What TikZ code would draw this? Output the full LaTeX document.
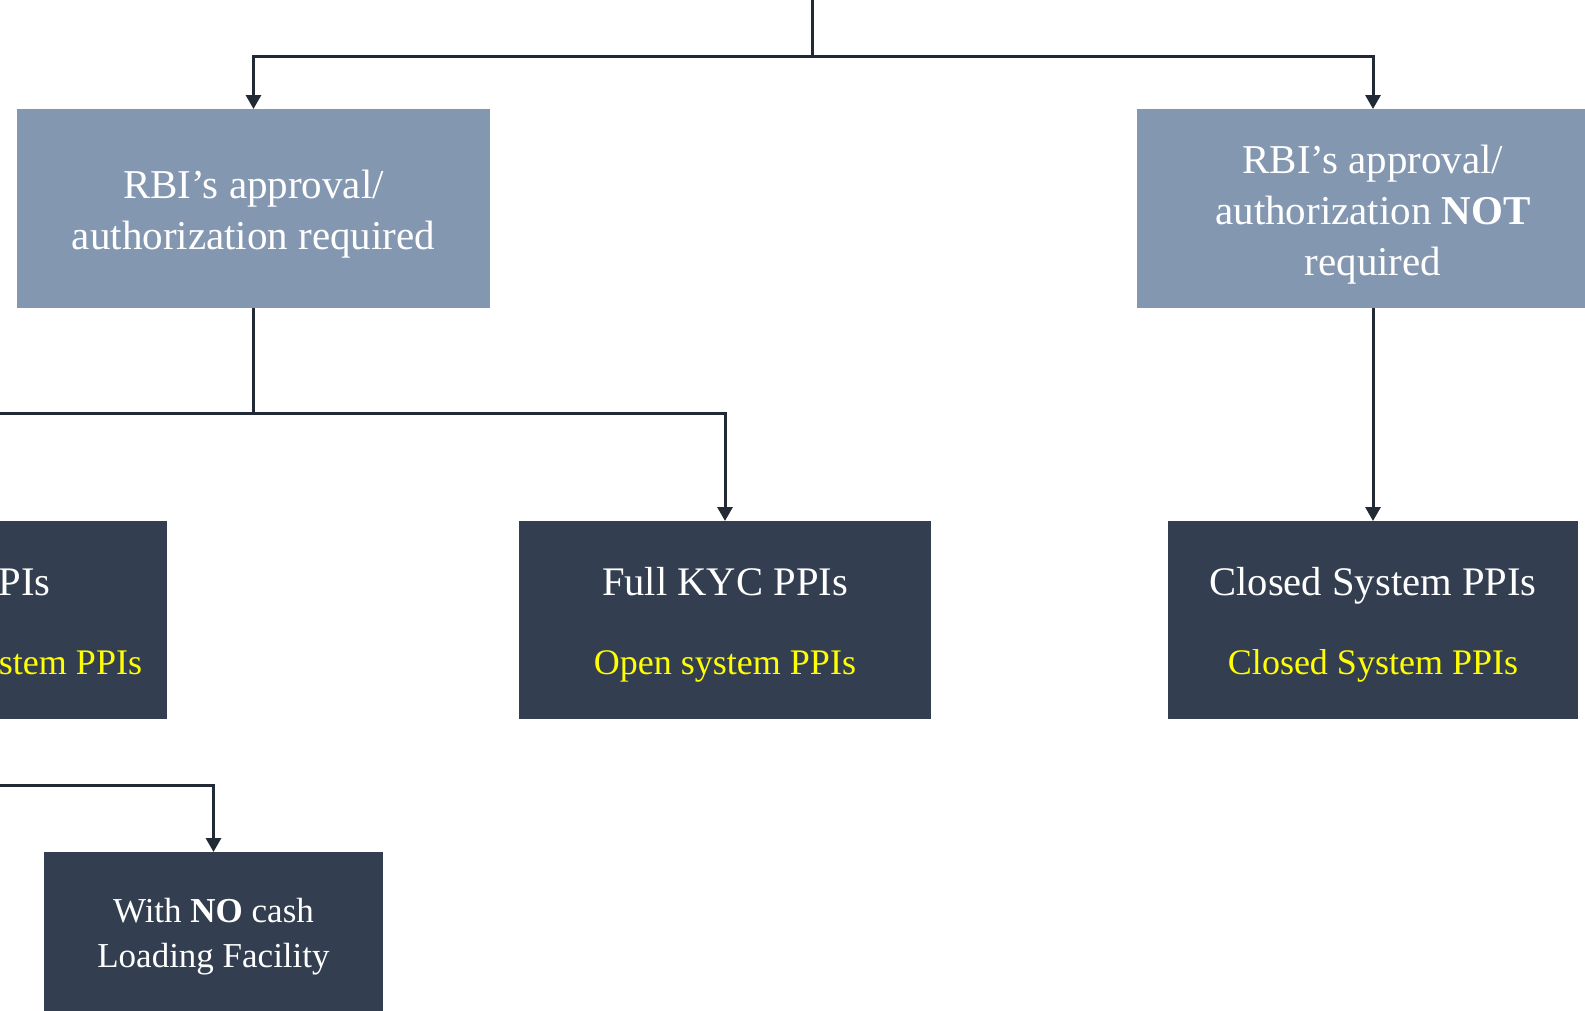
\documentclass[tikz,border=0pt]{standalone}
\usepackage{fontspec}
\setmainfont{Liberation Serif}
\definecolor{slateblue}{HTML}{8497B0}
\definecolor{navybox}{HTML}{333F50}
\definecolor{linedark}{HTML}{222A35}
\definecolor{tagyellow}{HTML}{FFFF00}
\usepackage{tikz}
\usetikzlibrary{arrows.meta, positioning, calc}
\newcommand{\topgap}[1]{\rule{0pt}{#1}}

\begin{document}
\begin{tikzpicture}[
  x=1pt, y=-1pt,
  approvalbox/.style={fill=slateblue, text=white, minimum width=473pt, minimum height=199pt, align=center, inner sep=0pt, outer sep=0pt, font=\fontsize{41}{51}\selectfont},
  ppibox/.style={fill=navybox, text=white, minimum width=412pt, minimum height=198pt, align=center, inner sep=0pt, outer sep=0pt, font=\fontsize{40.6}{51}\selectfont},
  conn/.style={draw=linedark, line width=3pt, -{Triangle[length=14pt, width=15pt]}}
]
  \path[use as bounding box, clip] (0,0) rectangle (1585,1010);

  % approval level
  \coordinate (root) at (812,-10);
  \node[approvalbox] (rbireq) at (253.5,208.5) {\topgap{40pt}RBI’s approval/\\authorization required};
  \node[approvalbox, minimum width=472pt] (rbinot) at (1373,208.5) {\topgap{40pt}RBI’s approval/\\authorization \textbf{NOT}\\required};

  % PPI types
  \node[ppibox] (smallppi) at (-39,620) {\topgap{38pt}Small PPIs\\[28pt]{\fontsize{36}{51}\selectfont\color{tagyellow}Semi-closed system PPIs}};
  \node[ppibox] (fullkyc) at (725,620) {\topgap{38pt}Full KYC PPIs\\[28pt]{\fontsize{36}{51}\selectfont\color{tagyellow}Open system PPIs}};
  \node[ppibox, minimum width=410pt] (closed) at (1373,620) {\topgap{38pt}Closed System PPIs\\[28pt]{\fontsize{36}{51}\selectfont\color{tagyellow}Closed System PPIs}};
  \node[ppibox, minimum width=339pt, minimum height=170pt, font=\fontsize{35}{45}\selectfont] (nocash) at (213.5,937) {With \textbf{NO} cash\\Loading Facility};

  \draw[conn] (root) -- ++(0,66.5) -| (rbireq);
  \draw[conn] (root) -- ++(0,66.5) -| (rbinot);
  \draw[conn] (rbireq.south) -- ++(0,105) -| (smallppi);
  \draw[conn] (rbireq.south) -- ++(0,105) -| (fullkyc);
  \draw[conn] (rbinot) -- (closed);
  \draw[conn] (smallppi.south) -- ++(0,66) -| (nocash);
\end{tikzpicture}
\end{document}
